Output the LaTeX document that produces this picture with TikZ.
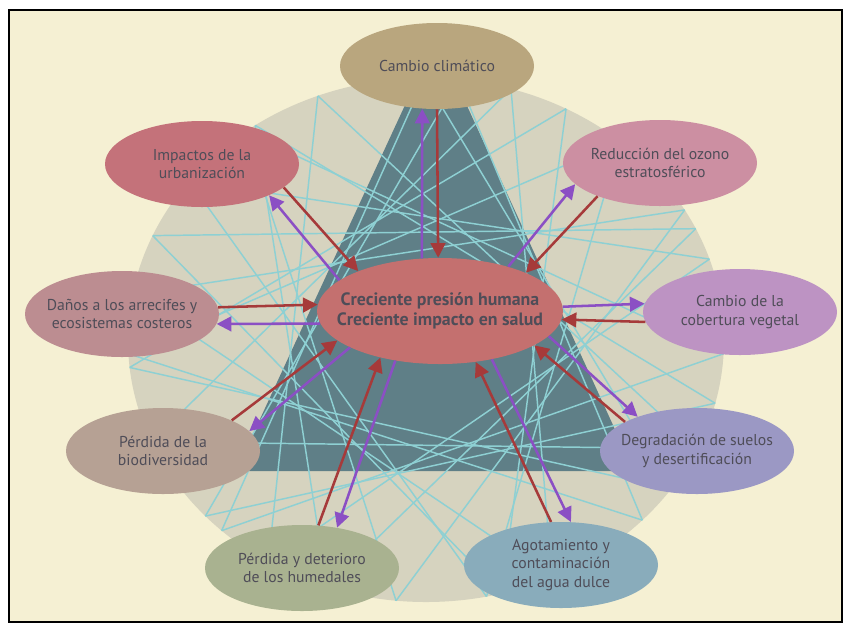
\documentclass[tikz,border=0pt]{standalone}
\usepackage{fontspec}
\setmainfont{PT Sans}
\usetikzlibrary{arrows.meta,shapes.geometric,calc}
\definecolor{bgc}{HTML}{F5F0D3}
\definecolor{greyc}{HTML}{D6D3BF}
\definecolor{tric}{HTML}{5F7F87}
\definecolor{chordc}{HTML}{8ED0D3}
\definecolor{redc}{HTML}{A63A3A}
\definecolor{purc}{HTML}{8B4FC4}
\definecolor{txtc}{HTML}{4F4D58}
\definecolor{cCambio}{HTML}{B9A67E}
\definecolor{cImpact}{HTML}{C4727A}
\definecolor{cOzono}{HTML}{CC8FA2}
\definecolor{cDanos}{HTML}{BC8D91}
\definecolor{cCenter}{HTML}{C4706F}
\definecolor{cCober}{HTML}{BD93C3}
\definecolor{cBiod}{HTML}{B6A194}
\definecolor{cDegr}{HTML}{9B98C4}
\definecolor{cHum}{HTML}{A9B290}
\definecolor{cAgua}{HTML}{89ACBB}
\begin{document}
\begin{tikzpicture}[x=0.75pt,y=-0.75pt,
  outer/.style={ellipse, inner sep=0pt, inner xsep=-30pt, inner ysep=-10pt,
    minimum width=145.5pt, minimum height=64.5pt,
    align=center, text=txtc, font=\fontsize{11.8}{13.8}\selectfont},
  hub/.style={ellipse, inner sep=0pt, inner xsep=-40pt, inner ysep=-10pt,
    minimum width=184.5pt, minimum height=79.5pt,
    align=center, text=txtc, font=\fontsize{13.4}{15}\selectfont\bfseries},
  chord/.style={draw=chordc, line width=1.1pt},
  redarr/.style={draw=redc, line width=1.9pt, -{Triangle[length=11pt,width=11pt]}},
  purarr/.style={draw=purc, line width=1.9pt, -{Triangle[length=11pt,width=11pt]}}]
\useasboundingbox (0,0) rectangle (848,626);
\fill[white] (0,0) rectangle (848,626);
\draw[line width=1.2pt, fill=bgc] (9,10) rectangle (842,622);
\fill[greyc] (426,340) ellipse [x radius=298, y radius=262];
\fill[tric] (436,38) -- (236,471) -- (634,471) -- cycle;
\foreach \i in {0,...,29} {
  \pgfmathsetmacro\ba{\i*12}
  \pgfmathsetmacro\aa{\ba+4*sin(7*\ba)+3*cos(11*\ba)}
  \pgfmathsetmacro\bb{(\i+11)*12}
  \pgfmathsetmacro\ab{\bb+4*sin(7*\bb)+3*cos(11*\bb)}
  \draw[chord] ({426+298*cos(\aa)},{340+262*sin(\aa)}) -- ({426+298*cos(\ab)},{340+262*sin(\ab)});
}
% nodes
\node[hub, fill=cCenter] (C) at (440,311) {Creciente presión humana\\Creciente impacto en salud};
\node[outer, fill=cCambio] (N1) at (437,66) {Cambio climático};
\node[outer, fill=cImpact] (N2) at (202,164) {Impactos de la\\urbanización};
\node[outer, fill=cOzono] (N3) at (660,163) {Reducción del ozono\\estratosférico};
\node[outer, fill=cDanos] (N4) at (122,314) {Daños a los arrecifes y\\ecosistemas costeros};
\node[outer, fill=cCober] (N5) at (740,312) {Cambio de la\\cobertura vegetal};
\node[outer, fill=cBiod] (N6) at (163,451) {Pérdida de la\\biodiversidad};
\node[outer, fill=cDegr] (N7) at (697,451) {Degradación de suelos\\y desertificación};
\node[outer, fill=cHum] (N8) at (302,568) {Pérdida y deterioro\\de los humedales};
\node[outer, fill=cAgua] (N9) at (561,565) {Agotamiento y\\contaminación\\del agua dulce};
% arrows
\draw[purarr] (C.109) -- (N1.-109);
\draw[redarr] (N1.-90) -- (C.92);
\draw[redarr] (N2.-16) -- (C.154);
\draw[purarr] (C.163) -- (N2.-25);
\draw[purarr] (C.33) -- (N3.-166);
\draw[redarr] (N3.-152) -- (C.24);
\draw[redarr] (N4.4.7) -- (C.177.7);
\draw[purarr] (C.186.7) -- (N4.-6.5);
\draw[purarr] (C.2.8) -- (N5.175.8);
\draw[redarr] (N5.-174.6) -- (C.-4.7);
\draw[redarr] (N6.24) -- (C.196);
\draw[purarr] (C.202) -- (N6.13);
\draw[purarr] (C.-13) -- (N7.150);
\draw[redarr] (N7.158) -- (C.-20);
\draw[redarr] (N8.69) -- (C.218);
\draw[purarr] (C.228) -- (N8.49);
\draw[purarr] (C.-43) -- (N9.77);
\draw[redarr] (N9.103) -- (C.-55);
\end{tikzpicture}
\end{document}
